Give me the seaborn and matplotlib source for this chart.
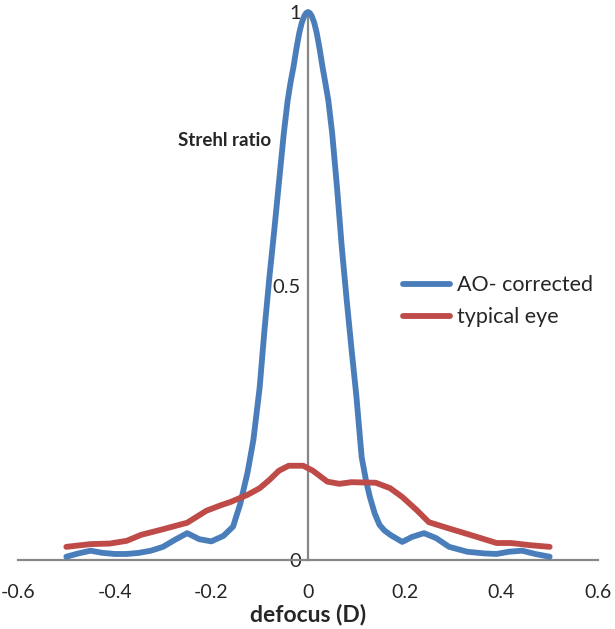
import pandas as pd
import matplotlib
matplotlib.use("Agg")
import matplotlib.pyplot as plt
import seaborn as sns

# Strehl ratio vs defocus
ao_defocus = [-0.500, -0.475, -0.450, -0.425, -0.400, -0.375, -0.350, -0.325, -0.300, -0.275,
              -0.250, -0.225, -0.200, -0.175, -0.155, -0.140, -0.125, -0.113, -0.100, -0.090,
              -0.080, -0.070, -0.060, -0.050, -0.042, -0.036, -0.030, -0.024, -0.018, -0.013,
              -0.008, -0.004, 0.000, 0.004, 0.008, 0.013, 0.018, 0.024, 0.030, 0.036,
              0.042, 0.050, 0.060, 0.070, 0.080, 0.090, 0.100, 0.111,
              0.120, 0.128, 0.138, 0.148, 0.158, 0.170, 0.195, 0.215, 0.240, 0.265, 0.292,
              0.330, 0.365, 0.390, 0.415, 0.443, 0.470, 0.500]
ao_strehl = [0.006, 0.012, 0.017, 0.013, 0.011, 0.011, 0.013, 0.017, 0.024, 0.037,
             0.049, 0.038, 0.034, 0.044, 0.061, 0.103, 0.160, 0.219, 0.315, 0.420,
             0.515, 0.600, 0.690, 0.779, 0.839, 0.872, 0.900, 0.933, 0.962, 0.980,
             0.992, 0.998, 1.000, 0.998, 0.992, 0.980, 0.962, 0.933, 0.900, 0.870,
             0.839, 0.779, 0.680, 0.570, 0.475, 0.385, 0.300, 0.188,
             0.145, 0.115, 0.085, 0.064, 0.054, 0.046, 0.033, 0.042, 0.049, 0.040, 0.024,
             0.015, 0.012, 0.011, 0.015, 0.017, 0.011, 0.006]

eye_defocus = [-0.50, -0.45, -0.41, -0.375, -0.345, -0.305, -0.25, -0.21, -0.18, -0.16,
               -0.125, -0.10, -0.08, -0.06, -0.04, -0.01, 0.01, 0.04, 0.065, 0.09,
               0.14, 0.17, 0.195, 0.225, 0.25, 0.29, 0.35, 0.39, 0.42, 0.46, 0.50]
eye_strehl = [0.024, 0.029, 0.030, 0.035, 0.046, 0.055, 0.068, 0.090, 0.100, 0.106,
              0.119, 0.131, 0.146, 0.163, 0.172, 0.172, 0.163, 0.143, 0.139, 0.142,
              0.141, 0.131, 0.115, 0.091, 0.069, 0.058, 0.042, 0.031, 0.031, 0.027, 0.024]

x_ticks = [-0.6, -0.4, -0.2, 0, 0.2, 0.4, 0.6]
x_tick_labels = ["-0.6", "-0.4", "-0.2", "0", "0.2", "0.4", "0.6"]
y_ticks = [0, 0.5, 1]
y_tick_labels = ["0", "0.5", "1"]

df = pd.concat([
    pd.DataFrame({"defocus": ao_defocus, "strehl": ao_strehl, "series": "AO- corrected"}),
    pd.DataFrame({"defocus": eye_defocus, "strehl": eye_strehl, "series": "typical eye"}),
])

sns.set_style("white")
plt.rcParams["font.family"] = ["Lato", "DejaVu Sans"]

fig = plt.figure(figsize=(6.15, 6.29), dpi=100)
ax = fig.add_axes([18 / 615, 1 - 560 / 629, 580 / 615, 548 / 629])

sns.lineplot(data=df, x="defocus", y="strehl", hue="series", sort=False,
             palette={"AO- corrected": "#4A7EBB", "typical eye": "#BE4B48"},
             linewidth=4.2, ax=ax, clip_on=False, estimator=None,
             solid_joinstyle="round")

ax.set_xlim(-0.6, 0.6)
ax.set_ylim(0, 1)
ax.spines["left"].set_position(("data", 0))
for side in ["top", "right"]:
    ax.spines[side].set_visible(False)
for side in ["left", "bottom"]:
    ax.spines[side].set_color("#868686")
    ax.spines[side].set_linewidth(1.6)
    ax.spines[side].set_zorder(1)

ax.set_xticks(x_ticks)
ax.set_xticklabels(x_tick_labels)
ax.set_yticks(y_ticks)
ax.set_yticklabels(y_tick_labels)
ax.tick_params(axis="x", direction="out", length=6, width=1.6, color="#868686",
               labelsize=14, pad=11.5)
ax.tick_params(axis="y", direction="out", length=4, width=1.6, color="#868686",
               labelsize=14.5, pad=1)

ax.set_xlabel("defocus (D)", fontsize=16.5, fontweight="bold", labelpad=1.5)
ax.set_ylabel("")
ax.text(-0.173, 0.766, "Strehl ratio", fontsize=13.5, fontweight="bold",
        ha="center", va="center")

leg = ax.legend(loc="upper left", bbox_to_anchor=(0.63, 0.555), frameon=False,
                fontsize=15.5, handlelength=2.2, labelspacing=0.55, handletextpad=0.3,
                title=None)
for line in leg.get_lines():
    line.set_linewidth(4.2)

fig.savefig("out.png", dpi=100)
